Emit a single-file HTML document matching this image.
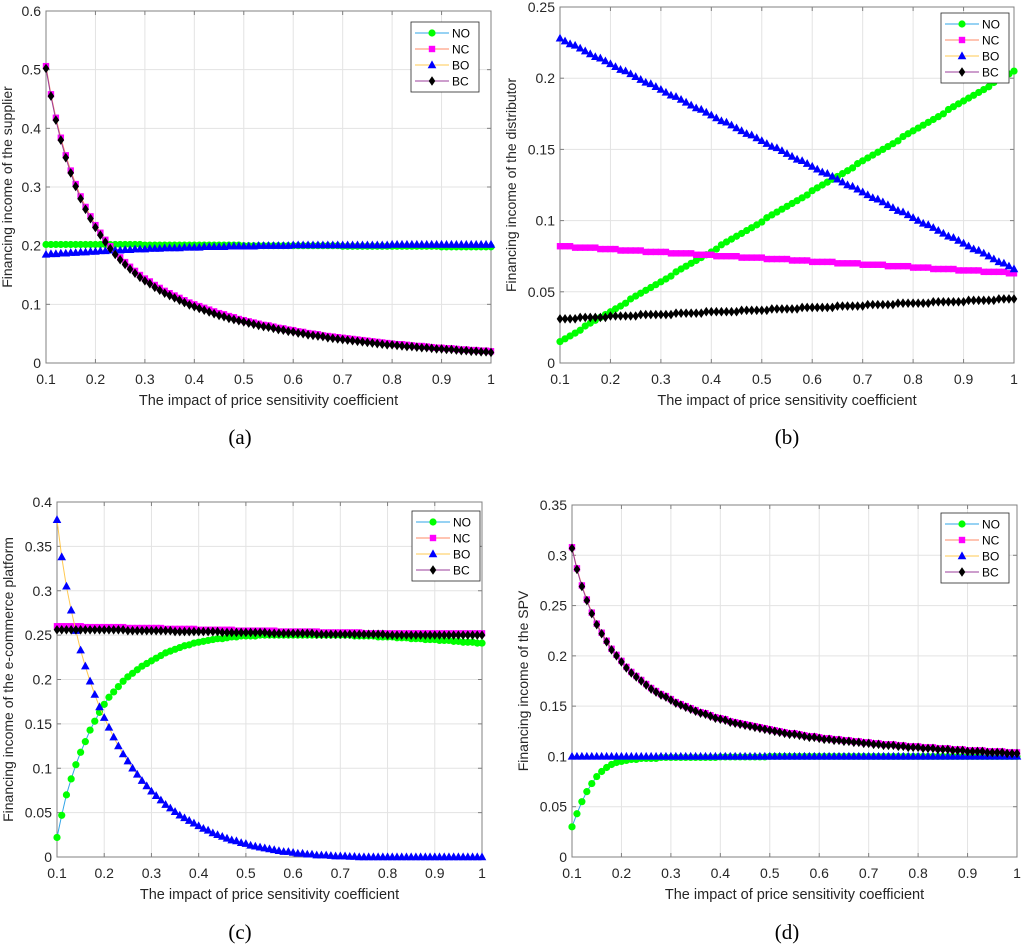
<!DOCTYPE html>
<html><head><meta charset="utf-8"><style>
body{margin:0;background:#fff;}
svg{display:block;font-family:"Liberation Sans",sans-serif;}
</style></head><body>
<svg id="fig" width="1024" height="945" viewBox="0 0 1024 945"></svg>
<script>
const xs=[];for(let k=0;k<=90;k++)xs.push(Math.round((0.1+k*0.01)*100)/100);
const xTicks=[0.1,0.2,0.3,0.4,0.5,0.6,0.7,0.8,0.9,1];
const xTickLabels=["0.1","0.2","0.3","0.4","0.5","0.6","0.7","0.8","0.9","1"];
const seriesNames=["NO","NC","BO","BC"];
// (a)
const aNO=[.202,.202,.202,.202,.202,.202,.202,.202,.202,.202,.202,.202,.202,.202,.202,.202,.202,.202,.202,.202,
.201,.201,.201,.201,.201,.201,.201,.201,.201,.201,.201,.201,.201,.201,.201,.201,.201,.201,.201,.201,
.200,.200,.200,.200,.200,.200,.200,.200,.200,.200,.200,.200,.200,.200,.200,.200,.200,.200,.200,.200,
.199,.199,.199,.199,.199,.199,.199,.199,.199,.199,.199,.199,.199,.199,.199,.199,.199,.199,.199,.199,
.198,.198,.198,.198,.198,.198,.198,.198,.198,.198,.198];
const aNC=[.506,.458,.418,.384,.354,.328,.305,.284,.266,.250,.235,.222,.210,.199,.189,.180,.172,.164,.157,.150,.144,
.139,.133,.128,.123,.119,.115,.111,.107,.103,.100,
.097,.094,.091,.088,.085,.083,.080,.078,.075,.073,
.071,.069,.067,.065,.064,.062,.060,.059,.057,.056,
.054,.053,.051,.050,.049,.047,.046,.045,.044,.043,
.042,.041,.040,.039,.038,.037,.036,.035,.034,.033,
.032,.032,.031,.030,.029,.029,.028,.027,.026,.026,
.025,.025,.024,.023,.023,.022,.022,.021,.021,.020];
const aBO=[.185,.186,.186,.187,.187,.188,.188,.189,.189,.190,
.190,.191,.191,.192,.192,.192,.193,.193,.194,.194,
.194,.195,.195,.195,.196,.196,.196,.196,.197,.197,
.197,.197,.198,.198,.198,.198,.198,.199,.199,.199,
.199,.199,.199,.200,.200,.200,.200,.200,.200,.200,
.201,.201,.201,.201,.201,.201,.201,.201,.201,.201,
.201,.201,.201,.201,.201,.201,.201,.201,.201,.201,
.202,.202,.202,.202,.202,.202,.202,.202,.202,.202,
.202,.202,.202,.202,.202,.202,.202,.202,.202,.202,.202];
const aBC=[.502,.455,.414,.380,.350,.324,.301,.280,.262,.246,.231,.218,.206,.195,.185,.176,.168,.160,.153,.146,.140,
.135,.129,.124,.119,.115,.111,.107,.103,.099,.096,
.093,.090,.087,.084,.081,.079,.076,.074,.072,.070,
.068,.066,.064,.062,.061,.059,.057,.056,.054,.053,
.051,.050,.048,.047,.046,.045,.043,.042,.041,.040,
.039,.038,.037,.036,.035,.034,.033,.032,.031,.031,
.030,.029,.028,.028,.027,.026,.026,.025,.024,.024,
.023,.023,.022,.021,.021,.020,.020,.019,.019,.018];
// (b)
const bNO=[.015,.017,.019,.021,.023,.026,.028,.030,.032,.034,
.036,.038,.040,.042,.045,.047,.049,.051,.053,.055,
.057,.059,.061,.064,.066,.068,.070,.072,.074,.076,
.078,.080,.083,.085,.087,.089,.091,.093,.095,.097,
.099,.102,.104,.106,.108,.110,.112,.114,.116,.118,
.121,.123,.125,.127,.129,.131,.133,.135,.137,.140,
.142,.144,.146,.148,.150,.152,.154,.156,.159,.161,
.163,.165,.167,.169,.171,.173,.175,.178,.180,.182,
.184,.186,.188,.190,.192,.194,.197,.199,.201,.203,.205];
const bNC=[.082,.082,.082,.081,.081,.081,.081,.081,.080,.080,
.080,.080,.079,.079,.079,.079,.079,.078,.078,.078,
.078,.078,.077,.077,.077,.077,.077,.076,.076,.076,
.076,.075,.075,.075,.075,.075,.074,.074,.074,.074,
.074,.073,.073,.073,.073,.073,.072,.072,.072,.072,
.071,.071,.071,.071,.071,.070,.070,.070,.070,.070,
.069,.069,.069,.069,.069,.068,.068,.068,.068,.068,
.067,.067,.067,.067,.066,.066,.066,.066,.066,.065,
.065,.065,.065,.065,.064,.064,.064,.064,.064,.063,.063];
const bBO=[.228,.226,.224,.223,.221,.219,.217,.215,.214,.212,
.210,.208,.206,.205,.203,.201,.199,.197,.196,.194,
.192,.190,.188,.187,.185,.183,.181,.179,.178,.176,
.174,.172,.170,.169,.167,.165,.163,.161,.160,.158,
.156,.154,.152,.151,.149,.147,.145,.143,.142,.140,
.138,.136,.134,.133,.131,.129,.127,.125,.124,.122,
.120,.118,.116,.115,.113,.111,.109,.107,.106,.104,
.102,.100,.098,.097,.095,.093,.091,.089,.088,.086,
.084,.082,.080,.079,.077,.075,.073,.071,.070,.068,.066];
const bBC=[.031,.031,.031,.031,.032,.032,.032,.032,.032,.032,
.033,.033,.033,.033,.033,.033,.034,.034,.034,.034,
.034,.034,.034,.035,.035,.035,.035,.035,.035,.036,
.036,.036,.036,.036,.036,.036,.037,.037,.037,.037,
.037,.037,.038,.038,.038,.038,.038,.038,.039,.039,
.039,.039,.039,.039,.039,.040,.040,.040,.040,.040,
.040,.041,.041,.041,.041,.041,.041,.042,.042,.042,
.042,.042,.042,.042,.043,.043,.043,.043,.043,.043,
.043,.044,.044,.044,.044,.044,.044,.045,.045,.045,.045];
// (c)
const cNO=[.022,.047,.070,.088,.104,.118,.130,.143,.153,.163,
.172,.180,.186,.192,.198,.203,.207,.211,.215,.218,
.221,.224,.227,.230,.232,.234,.236,.238,.239,.241,
.242,.243,.244,.245,.246,.246,.247,.248,.248,.249,
.249,.249,.249,.250,.250,.250,.250,.250,.250,.250,
.250,.250,.250,.250,.250,.250,.250,.250,.250,.250,
.250,.250,.250,.249,.249,.249,.249,.249,.248,.248,
.248,.248,.247,.247,.247,.246,.246,.246,.245,.245,
.245,.244,.244,.244,.243,.243,.242,.242,.242,.241,.241];
const cNC=[.260,.260,.260,.260,.260,.260,.259,.259,.259,.259,
.259,.259,.259,.259,.259,.258,.258,.258,.258,.258,
.258,.258,.258,.257,.257,.257,.257,.257,.257,.257,
.256,.256,.256,.256,.256,.256,.256,.256,.255,.255,
.255,.255,.255,.255,.255,.255,.255,.254,.254,.254,
.254,.254,.254,.254,.254,.254,.253,.253,.253,.253,
.253,.253,.253,.253,.253,.252,.252,.252,.252,.252,
.252,.252,.252,.252,.252,.252,.252,.252,.252,.252,
.252,.252,.252,.252,.252,.252,.252,.252,.252,.252,.252];
const cBO=[.380,.338,.305,.278,.255,.233,.215,.198,.183,.169,
.157,.146,.135,.125,.116,.108,.100,.093,.086,.080,
.074,.069,.064,.059,.055,.051,.047,.044,.041,.038,
.035,.032,.030,.027,.025,.023,.021,.019,.018,.016,
.015,.013,.012,.011,.010,.009,.008,.007,.006,.006,
.005,.004,.004,.003,.003,.002,.002,.002,.0015,.001,
.001,.001,.0005,.0005,0,0,0,0,0,0,
0,0,0,0,0,0,0,0,0,0,
0,0,0,0,0,0,0,0,0,0,0];
const cBC=[.256,.256,.256,.256,.256,.256,.256,.256,.256,.256,
.256,.256,.256,.256,.256,.255,.255,.255,.255,.255,
.255,.255,.255,.255,.255,.254,.254,.254,.254,.254,
.254,.254,.254,.254,.254,.253,.253,.253,.253,.253,
.253,.253,.253,.253,.253,.252,.252,.252,.252,.252,
.252,.252,.252,.252,.252,.251,.251,.251,.251,.251,
.251,.251,.251,.251,.251,.251,.251,.251,.251,.251,
.250,.250,.250,.250,.250,.250,.250,.250,.250,.250,
.250,.250,.250,.250,.250,.250,.250,.250,.250,.250,.250];
// (d)
const dNO=[.030,.043,.055,.065,.073,.080,.085,.089,.092,.094,
.095,.096,.097,.097,.098,.098,.098,.098,.099,.099,
.099,.099,.099,.099,.099,.099,.099,.099,.099,.099,
.0995,.0995,.0995,.0995,.0995,.0995,.0995,.0995,.0995,.0995,
.1,.1,.1,.1,.1,.1,.1,.1,.1,.1,
.1,.1,.1,.1,.1,.1,.1,.1,.1,.1,
.1,.1,.1,.1,.1,.1,.1,.1,.1,.1,
.1,.1,.1,.1,.1,.1,.1,.1,.1,.1,
.1,.1,.1,.1,.1,.1,.1,.1,.1,.1,.1];
const dNC=[.308,.287,.270,.256,.243,.232,.223,.215,.207,.201,
.195,.189,.184,.180,.176,.172,.168,.165,.162,.160,
.157,.154,.152,.150,.148,.146,.144,.143,.141,.139,
.138,.137,.135,.134,.133,.132,.131,.130,.129,.128,
.127,.126,.125,.124,.123,.123,.122,.121,.120,.120,
.119,.118,.118,.117,.117,.116,.116,.115,.115,.114,
.114,.113,.113,.112,.112,.112,.111,.111,.110,.110,
.110,.109,.109,.109,.108,.108,.108,.107,.107,.107,
.106,.106,.106,.106,.105,.105,.105,.105,.104,.104,.104];
const dBO=[.1,.1,.1,.1,.1,.1,.1,.1,.1,.1,
.1,.1,.1,.1,.1,.1,.1,.1,.1,.1,
.1,.1,.1,.1,.1,.1,.1,.1,.1,.1,
.1,.1,.1,.1,.1,.1,.1,.1,.1,.1,
.1,.1,.1,.1,.1,.1,.1,.1,.1,.1,
.1,.1,.1,.1,.1,.1,.1,.1,.1,.1,
.1,.1,.1,.1,.1,.1,.1,.1,.1,.1,
.1,.1,.1,.1,.1,.1,.1,.1,.1,.1,
.1,.1,.1,.1,.1,.1,.1,.1,.1,.1,.1];
const dBC=[.307,.286,.269,.255,.242,.231,.222,.214,.206,.200,
.194,.188,.183,.179,.175,.171,.167,.164,.161,.159,
.156,.153,.151,.149,.147,.145,.143,.142,.140,.138,
.137,.136,.134,.133,.132,.131,.130,.129,.128,.127,
.126,.125,.124,.123,.122,.122,.121,.120,.119,.119,
.118,.117,.117,.116,.116,.115,.115,.114,.114,.113,
.113,.112,.112,.111,.111,.111,.110,.110,.109,.109,
.109,.108,.108,.108,.107,.107,.107,.106,.106,.106,
.105,.105,.105,.105,.104,.104,.104,.104,.103,.103,.103];

const NS="http://www.w3.org/2000/svg";
const svg=document.getElementById('fig');
function mk(tag,attrs,parent){const e=document.createElementNS(NS,tag);for(const k in attrs)e.setAttribute(k,attrs[k]);(parent||svg).appendChild(e);return e;}
const lineCol=["#2fa4e7","#ff8866","#ffc850","#9b3d9b"];
const markCol=["#00ff00","#ff00ff","#0000ff","#000000"];
function marker(g,i,x,y){
  let e;
  if(i===0)e=mk('circle',{cx:x,cy:y,r:3.6,fill:markCol[i]},g);
  else if(i===1)e=mk('rect',{x:x-3.2,y:y-3.2,width:6.4,height:6.4,fill:markCol[i]},g);
  else if(i===2)e=mk('polygon',{points:`${x},${y-4.6} ${x-4.3},${y+3.2} ${x+4.3},${y+3.2}`,fill:markCol[i]},g);
  else e=mk('polygon',{points:`${x},${y-4.8} ${x-3.3},${y} ${x},${y+4.8} ${x+3.3},${y}`,fill:markCol[i]},g);
  return e;
}
function plot(p){
  const g=mk('g',{});
  
  
  const X=v=>p.l+(v-0.1)/0.9*(p.r-p.l);
  const Y=v=>p.b-v/p.ymax*(p.b-p.t);
  mk('rect',{x:p.l,y:p.t,width:p.r-p.l,height:p.b-p.t,fill:'#fff'},g);
  xTicks.forEach((v,i)=>{
    if(i>0&&i<xTicks.length-1)mk('line',{x1:X(v),x2:X(v),y1:p.t,y2:p.b,stroke:'#e3e3e3','stroke-width':1},g);
    mk('line',{x1:X(v),x2:X(v),y1:p.b,y2:p.b-4,stroke:'#808080'},g);
    mk('line',{x1:X(v),x2:X(v),y1:p.t,y2:p.t+4,stroke:'#808080'},g);
    const t=mk('text',{x:X(v),y:p.b+21,'text-anchor':'middle','font-size':14,fill:'#262626'},g);t.textContent=xTickLabels[i];
    
    
  });
  p.yTicks.forEach((v,i)=>{
    if(i>0&&i<p.yTicks.length-1)mk('line',{x1:p.l,x2:p.r,y1:Y(v),y2:Y(v),stroke:'#e3e3e3'},g);
    mk('line',{x1:p.l,x2:p.l+4,y1:Y(v),y2:Y(v),stroke:'#808080'},g);
    mk('line',{x1:p.r,x2:p.r-4,y1:Y(v),y2:Y(v),stroke:'#808080'},g);
    const t=mk('text',{x:p.l-5,y:Y(v)+5,'text-anchor':'end','font-size':14,fill:'#262626'},g);t.textContent=p.yTickLabels[i];
    
    
  });
  mk('rect',{x:p.l,y:p.t,width:p.r-p.l,height:p.b-p.t,fill:'none',stroke:'#808080','stroke-width':1},g);
  p.series.forEach((arr,i)=>{
    const sg=mk('g',{},g);
    
    
    const n=Math.min(xs.length,arr.length);
    let d='';for(let k=0;k<n;k++)d+=(k?'L':'M')+X(xs[k]).toFixed(1)+','+Y(arr[k]).toFixed(1);
    mk('path',{d:d,fill:'none',stroke:lineCol[i],'stroke-width':1},sg);
    for(let k=0;k<n;k++){const m=marker(sg,i,X(xs[k]),Y(arr[k]));
      
      }
  });
  const xt=mk('text',{x:(p.l+p.r)/2,y:p.b+42,'text-anchor':'middle','font-size':14.5,fill:'#262626'},g);xt.textContent=p.xtitle;
  
  
  const yt=mk('text',{x:0,y:0,'text-anchor':'middle','font-size':14,fill:'#262626',transform:`translate(${p.yx},${(p.t+p.b)/2}) rotate(-90)`},g);yt.textContent=p.ytitle;
  
  
  const lg=mk('g',{},g);
  
  
  mk('rect',{x:p.lx,y:p.ly,width:68,height:70,fill:'#fff',stroke:'#262626','stroke-width':0.8},lg);
  seriesNames.forEach((s,i)=>{
    const yy=p.ly+11+i*16;
    mk('line',{x1:p.lx+4,x2:p.lx+38,y1:yy,y2:yy,stroke:lineCol[i]},lg);
    marker(lg,i,p.lx+21,yy);
    const t=mk('text',{x:p.lx+41,y:yy+4.5,'font-size':12,fill:'#000'},lg);t.textContent=s;
    
    
  });
  const c=mk('text',{x:p.cx,y:p.cy,'text-anchor':'middle','font-size':21,'font-family':'Liberation Serif, serif',fill:'#000'},g);c.textContent=p.caption;
  
  
}
const xtitle="The impact of price sensitivity coefficient";
plot({name:'chart-a',l:46,r:491,t:11,b:363,ymax:0.6,yTicks:[0,.1,.2,.3,.4,.5,.6],yTickLabels:["0","0.1","0.2","0.3","0.4","0.5","0.6"],series:[aNO,aNC,aBO,aBC],xtitle,ytitle:"Financing income of the supplier",yx:12,lx:411,ly:22,caption:"(a)",cx:240,cy:444});
plot({name:'chart-b',l:560,r:1014,t:7,b:363,ymax:0.25,yTicks:[0,.05,.1,.15,.2,.25],yTickLabels:["0","0.05","0.1","0.15","0.2","0.25"],series:[bNO,bNC,bBO,bBC],xtitle,ytitle:"Financing income of the distributor",yx:516,lx:941,ly:13,caption:"(b)",cx:787,cy:444});
plot({name:'chart-c',l:57,r:482,t:502,b:857,ymax:0.4,yTicks:[0,.05,.1,.15,.2,.25,.3,.35,.4],yTickLabels:["0","0.05","0.1","0.15","0.2","0.25","0.3","0.35","0.4"],series:[cNO,cNC,cBO,cBC],xtitle,ytitle:"Financing income of the e-commerce platform",yx:13,lx:412,ly:511,caption:"(c)",cx:240,cy:939});
plot({name:'chart-d',l:572,r:1017,t:505,b:857,ymax:0.35,yTicks:[0,.05,.1,.15,.2,.25,.3,.35],yTickLabels:["0","0.05","0.1","0.15","0.2","0.25","0.3","0.35"],series:[dNO,dNC,dBO,dBC],xtitle,ytitle:"Financing income of the SPV",yx:528,lx:941,ly:513,caption:"(d)",cx:787,cy:939});
</script>
</body></html>
